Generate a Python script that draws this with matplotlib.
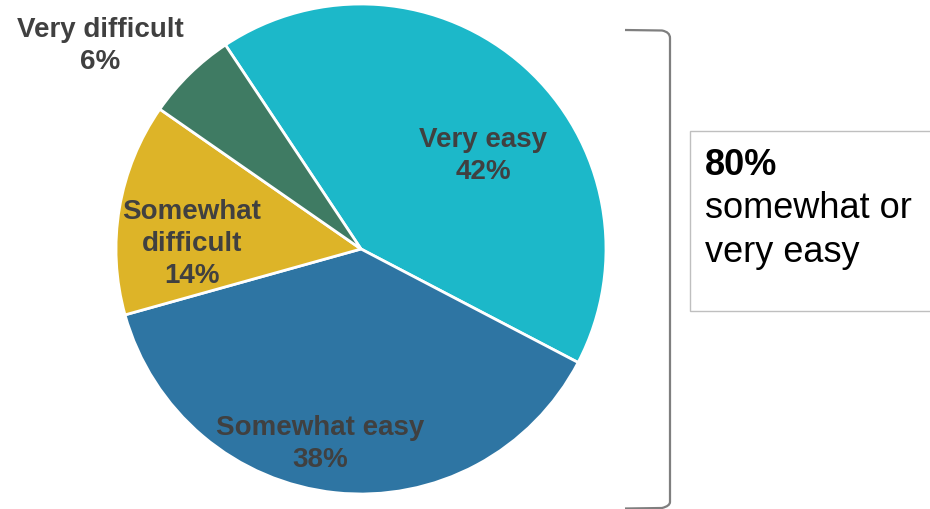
import matplotlib
matplotlib.use("Agg")
import matplotlib.pyplot as plt
from matplotlib.patches import Rectangle, PathPatch
from matplotlib.path import Path

plt.rcParams['font.family'] = ['Liberation Sans', 'DejaVu Sans']

categories = ["Very easy", "Somewhat easy", "Somewhat difficult", "Very difficult"]
values = [42, 38, 14, 6]
colors = ["#1CB8C9", "#2E75A3", "#DDB428", "#3F7B63"]
label_texts = ["Very easy\n42%", "Somewhat easy\n38%", "Somewhat\ndifficult\n14%", "Very difficult\n6%"]
summary_value = "80%"
summary_lines = ["somewhat or", "very easy"]

W, H = 930, 510
fig = plt.figure(figsize=(W / 100, H / 100), dpi=100)
ax = fig.add_axes([0, 0, 1, 1])

cx, cy, r = 361, H - 250, 245
ax.pie(values, colors=colors, startangle=123.6, counterclock=False,
       center=(cx, cy), radius=r, frame=True,
       wedgeprops=dict(edgecolor='white', linewidth=2))
ax.set_xlim(0, W)
ax.set_ylim(0, H)
ax.set_aspect('equal')
ax.axis('off')

# slice labels (x, y measured from the top edge)
label_pos = [(483, 156), (320, 444), (192, 244), (100, 46)]
for txt, (lx, ly) in zip(label_texts, label_pos):
    ax.text(lx, H - ly, txt, ha='center', va='center', fontsize=20,
            fontweight='bold', color='#404040', linespacing=1.32)

# bracket grouping the two "easy" answers
top, bot = H - 31, H - 509
verts = [(625, top), (662, top - 0.5), (670, top - 2), (670, top - 8),
         (670, bot + 6), (670, bot + 2), (662, bot), (625, bot - 0.5)]
codes = [Path.MOVETO, Path.LINETO, Path.CURVE3, Path.CURVE3,
         Path.LINETO, Path.CURVE3, Path.CURVE3, Path.LINETO]
ax.add_patch(PathPatch(Path(verts, codes), facecolor='none',
                       edgecolor='#7F7F7F', linewidth=1.6, clip_on=False))

# summary box
ax.add_patch(Rectangle((689.5, H - 312), 260, 180, facecolor='white',
                       edgecolor='#BFBFBF', linewidth=1, clip_on=True))
ax.text(705, H - 175, summary_value, ha='left', va='baseline', fontsize=26,
        fontweight='bold', color='black')
for i, line in enumerate(summary_lines):
    ax.text(705, H - 218 - 44 * i, line, ha='left', va='baseline', fontsize=26,
            color='black')

fig.savefig("out.png", dpi=100)
